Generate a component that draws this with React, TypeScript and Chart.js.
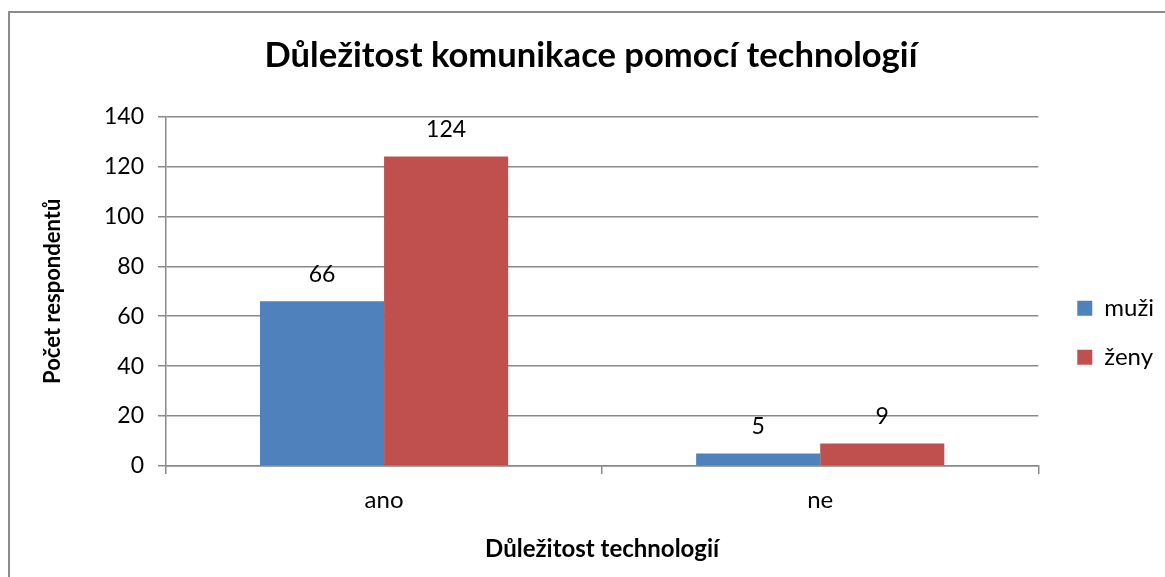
import React, { useEffect, useRef } from 'react';
import { Chart, registerables } from 'chart.js';

Chart.register(...registerables);

const categories = ['ano', 'ne'];
const seriesLabels = ['muži', 'ženy'];
const muzi = [66, 5];
const zeny = [124, 9];
const seriesColors = ['#4F81BD', '#C0504D'];
const yMin = 0;
const yMax = 140;
const yStep = 20;
const chartTitle = 'Důležitost komunikace pomocí technologií';
const xTitle = 'Důležitost technologií';
const yTitle = 'Počet respondentů';

const FONT = 'Lato, "Open Sans", sans-serif';
const GRID = '#8a8a8a';

const valueLabels = {
  id: 'valueLabels',
  afterDatasetsDraw(chart: any) {
    const ctx = chart.ctx;
    ctx.save();
    ctx.font = `23px ${FONT}`;
    ctx.fillStyle = '#000';
    ctx.textAlign = 'center';
    ctx.textBaseline = 'middle';
    chart.data.datasets.forEach((ds: any, i: number) => {
      const meta = chart.getDatasetMeta(i);
      meta.data.forEach((el: any, j: number) => {
        ctx.fillText(String(ds.data[j]), el.x, el.y - 27);
      });
    });
    ctx.restore();
  },
};

export default function App() {
  const ref = useRef<HTMLCanvasElement>(null);

  useEffect(() => {
    if (!ref.current) return;
    const chart = new Chart(ref.current, {
      type: 'bar',
      data: {
        labels: categories,
        datasets: [
          { label: seriesLabels[0], data: muzi, backgroundColor: seriesColors[0], borderWidth: 0 },
          { label: seriesLabels[1], data: zeny, backgroundColor: seriesColors[1], borderWidth: 0 },
        ],
      },
      options: {
        animation: false,
        responsive: false,
        maintainAspectRatio: false,
        devicePixelRatio: 1,
        layout: { padding: { left: 18, right: 0, top: 0, bottom: 0 } },
        datasets: { bar: { categoryPercentage: 0.569, barPercentage: 1 } },
        scales: {
          x: {
            offset: true,
            grid: { display: true, drawOnChartArea: false, drawTicks: true, tickLength: 8, color: GRID, lineWidth: 1.5 },
            border: { display: true, color: GRID, width: 1.5 },
            ticks: { color: '#000', font: { family: FONT, size: 24 }, padding: 12 },
            title: { display: true, text: xTitle, color: '#000', font: { family: FONT, size: 24, weight: 'bold' }, padding: { top: 0, bottom: 13 } },
            afterFit: (s: any) => { s.height = 111; },
          },
          y: {
            min: yMin,
            max: yMax,
            ticks: { stepSize: yStep, color: '#000', font: { family: FONT, size: 23 }, padding: 14 },
            grid: { color: GRID, lineWidth: 1.5, tickLength: 8, drawTicks: true },
            border: { display: true, color: GRID, width: 1.5 },
            title: { display: true, text: yTitle, color: '#000', font: { family: FONT, size: 22, weight: 'bold' }, padding: { top: 22, bottom: 0 } },
            afterFit: (s: any) => { s.width = 148; },
          },
          yR: {
            type: 'linear',
            position: 'right',
            display: true,
            grid: { display: false, drawTicks: false },
            border: { display: false },
            ticks: { display: false },
            afterFit: (s: any) => { s.width = 14; },
          },
        },
        plugins: {
          title: {
            display: true,
            text: chartTitle,
            color: '#000',
            font: { family: FONT, size: 34.6, weight: 'bold' },
            padding: { top: 35, bottom: 40 },
          },
          legend: {
            display: true,
            position: 'right',
            fullSize: false,
            maxWidth: 120,
            labels: {
              color: '#000',
              font: { family: FONT, size: 24 },
              boxWidth: 15,
              boxHeight: 15,
              padding: 25,
            },
            title: { display: true, text: ' ', font: { size: 10 }, padding: { top: 71, bottom: 0 } },
          },
          tooltip: { enabled: false },
        },
      } as any,
      plugins: [valueLabels],
    });
    return () => chart.destroy();
  }, []);

  return (
    <div style={{ position: 'fixed', left: 0, top: 0, width: 1165, height: 577, overflow: 'hidden', background: '#fff' }}>
      <div
        style={{
          position: 'absolute',
          left: 8,
          top: 11,
          width: 2000,
          height: 2000,
          borderLeft: '2px solid #8c8c8c',
          borderTop: '2px solid #8c8c8c',
        }}
      />
      <canvas ref={ref} width={1164} height={577} style={{ position: 'absolute', left: 0, top: 0, width: 1164, height: 577 }} />
    </div>
  );
}
